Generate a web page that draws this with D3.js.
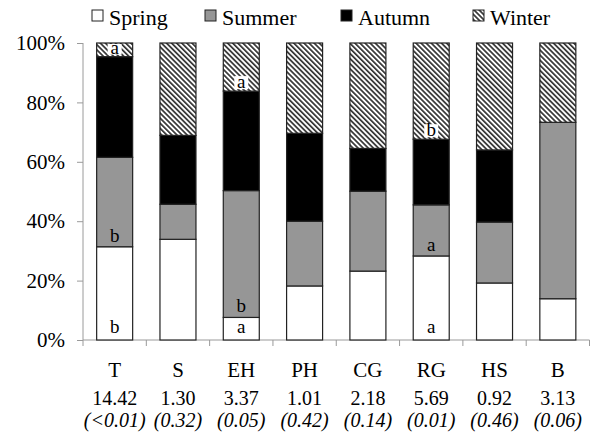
<!DOCTYPE html>
<html>
<head>
<meta charset="utf-8">
<script src="https://cdn.jsdelivr.net/npm/d3@7"></script>
<style>
  body { margin: 0; background: #fff; }
  svg, svg text { font-family: "Liberation Serif", "Times New Roman", "DejaVu Serif", serif; }
</style>
</head>
<body>
<div id="chart"></div>
<script>
// data (percent of records per season)
const categories = ["T", "S", "EH", "PH", "CG", "RG", "HS", "B"];
const seasons = ["Spring", "Summer", "Autumn", "Winter"];
const spring = [31.4, 33.9, 7.6, 18.2, 23.2, 28.3, 19.2, 13.9];
const summer = [30.1, 11.8, 42.7, 21.8, 26.9, 17.2, 20.5, 59.4];
const autumn = [33.9, 23.2, 33.5, 29.6, 14.4, 22.1, 24.3, 0];
const winter = [4.6, 31.1, 16.2, 30.4, 35.5, 32.4, 36.0, 26.7];
const chiValues = ["14.42", "1.30", "3.37", "1.01", "2.18", "5.69", "0.92", "3.13"];
const pValues = ["(<0.01)", "(0.32)", "(0.05)", "(0.42)", "(0.14)", "(0.01)", "(0.46)", "(0.06)"];
const yTicks = [0, 20, 40, 60, 80, 100];
// significance letters inside segments
const springLetters = ["b", "", "a", "", "", "a", "", ""];
const summerLetters = ["b", "", "b", "", "", "a", "", ""];
const winterLetters = ["a", "", "a", "", "", "b", "", ""];

const width = 590;
const height = 436;
const serif = '"Liberation Serif", "Times New Roman", "DejaVu Serif", serif';

const svg = d3.select('#chart')
  .append('svg')
  .attr('width', width)
  .attr('height', height)
  .attr('font-family', serif);

// hatch pattern for winter
const defs = svg.append('defs');
const pat = defs.append('pattern')
  .attr('id', 'hatch')
  .attr('patternUnits', 'userSpaceOnUse')
  .attr('width', 3.6)
  .attr('height', 3.6)
  .attr('patternTransform', 'rotate(-45)');
pat.append('rect').attr('width', 3.6).attr('height', 3.6).attr('fill', '#fff');
pat.append('rect').attr('width', 1.7).attr('height', 3.6).attr('fill', '#333');

const fills = {
  Spring: '#ffffff',
  Summer: '#969696',
  Autumn: '#000000',
  Winter: 'url(#hatch)'
};

const x = d3.scaleBand().domain(categories).range([83, 589.5]).padding(0);
const y = d3.scaleLinear().domain([0, 100]).range([340, 43]);
const barW = 36;
const barX = c => x(c) + (x.bandwidth() - barW) / 2;
const barC = c => x(c) + x.bandwidth() / 2;

// build table for stack
const table = categories.map((c, i) => ({
  cat: c, Spring: spring[i], Summer: summer[i], Autumn: autumn[i], Winter: winter[i]
}));
const series = d3.stack().keys(seasons)(table);

// axes
const axisColor = '#9a9a9a';
const yAxis = svg.append('g')
  .attr('transform', 'translate(83,0)')
  .call(d3.axisLeft(y).tickValues(yTicks).tickSize(6).tickPadding(12).tickFormat(d => d + '%'));
yAxis.attr('font-family', serif).attr('font-size', 21);
yAxis.select('.domain').attr('stroke', axisColor).attr('d', `M0,${y(0)}V${y(100)}`);
yAxis.selectAll('.tick line').attr('stroke', axisColor);
yAxis.selectAll('.tick text').attr('fill', '#000');

// x axis line and boundary ticks
svg.append('line')
  .attr('x1', 83).attr('x2', 589.5)
  .attr('y1', y(0)).attr('y2', y(0))
  .attr('stroke', axisColor);
const bounds = categories.map(c => x(c)).concat([x.range()[1]]);
svg.selectAll('.xtick')
  .data(bounds)
  .enter()
  .append('line')
  .attr('class', 'xtick')
  .attr('x1', d => d).attr('x2', d => d)
  .attr('y1', y(0)).attr('y2', y(0) + 6)
  .attr('stroke', axisColor);

// stacked bars
svg.selectAll('.layer')
  .data(series)
  .enter()
  .append('g')
  .attr('class', 'layer')
  .attr('fill', d => fills[d.key])
  .selectAll('rect')
  .data(d => d.filter(s => s[1] - s[0] > 0))
  .enter()
  .append('rect')
  .attr('x', d => barX(d.data.cat))
  .attr('y', d => y(d[1]))
  .attr('width', barW)
  .attr('height', d => y(d[0]) - y(d[1]))
  .attr('stroke', '#222')
  .attr('stroke-width', 1.2);

// significance letters
const letterG = svg.append('g')
  .attr('font-size', 19)
  .attr('text-anchor', 'middle');

categories.forEach((c, i) => {
  const cx = barC(c);
  if (springLetters[i]) {
    letterG.append('text').attr('x', cx).attr('y', y(0) - 7).text(springLetters[i]);
  }
  if (summerLetters[i]) {
    letterG.append('text').attr('x', cx).attr('y', y(spring[i]) - 5).text(summerLetters[i]);
  }
  if (winterLetters[i]) {
    const base = y(spring[i] + summer[i] + autumn[i]) - 2;
    const top = Math.max(base - 13, y(100) + 1);
    letterG.append('rect')
      .attr('x', cx - 7).attr('y', top)
      .attr('width', 14).attr('height', base - top)
      .attr('fill', '#fff');
    letterG.append('text').attr('x', cx).attr('y', base - 1).text(winterLetters[i]);
  }
});

// category labels, statistic and p values
const labG = svg.append('g').attr('text-anchor', 'middle').attr('fill', '#000');
labG.selectAll('.cat')
  .data(categories)
  .enter()
  .append('text')
  .attr('x', d => barC(d))
  .attr('y', 377)
  .attr('font-size', 21)
  .text(d => d);
labG.selectAll('.chi')
  .data(chiValues)
  .enter()
  .append('text')
  .attr('x', (d, i) => barC(categories[i]))
  .attr('y', 405)
  .attr('font-size', 20)
  .text(d => d);
labG.selectAll('.pv')
  .data(pValues)
  .enter()
  .append('text')
  .attr('x', (d, i) => barC(categories[i]))
  .attr('y', 427)
  .attr('font-size', 20)
  .attr('font-style', 'italic')
  .text(d => d);

// legend
const legendX = [92, 205, 341, 473];
const legend = svg.append('g')
  .selectAll('g')
  .data(seasons)
  .enter()
  .append('g')
  .attr('transform', (d, i) => `translate(${legendX[i]},0)`);
legend.append('rect')
  .attr('x', 0).attr('y', 10)
  .attr('width', 11).attr('height', 11)
  .attr('fill', d => fills[d])
  .attr('stroke', '#222')
  .attr('stroke-width', 1);
legend.append('text')
  .attr('x', 17)
  .attr('y', 25)
  .attr('font-size', 22)
  .text(d => d);
</script>
</body>
</html>
